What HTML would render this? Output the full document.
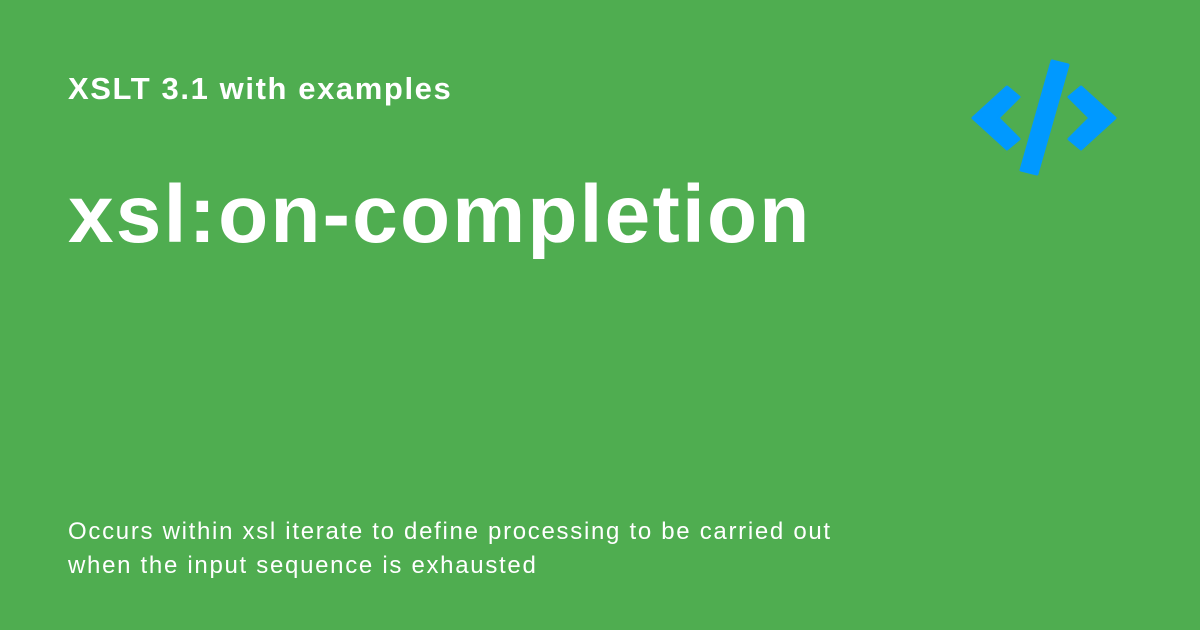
<!DOCTYPE html>
<html><head><style>
body{margin:0;width:1200px;height:630px;background:#4fad50;position:relative;overflow:hidden;font-family:"Liberation Sans",sans-serif;color:#fff}
.a{position:absolute;left:68px;white-space:nowrap}
</style></head><body>
<div class="a" style="top:71px;font-size:31px;font-weight:bold;letter-spacing:1.6px">XSLT 3.1 with examples</div>
<div class="a" style="top:168px;font-size:82px;font-weight:bold;letter-spacing:2.2px">xsl:on-completion</div>
<div class="a" style="top:515px;font-size:24px;line-height:34px;letter-spacing:1.7px">Occurs within xsl iterate to define processing to be carried out<br>when the input sequence is exhausted</div>
<svg style="position:absolute;left:0;top:0" width="1200" height="630">
<g fill="#0099ff" stroke="#0099ff" stroke-width="3" stroke-linejoin="round">
<polygon points="973,118 1007,87 1019,97 998,118 1019,139 1007,149"/>
<polygon points="1115,118 1081,87 1069,97 1090,118 1069,139 1081,149"/>
<polygon points="1052,61 1068,65 1037,174 1021,170"/>
</g></svg>
</body></html>
